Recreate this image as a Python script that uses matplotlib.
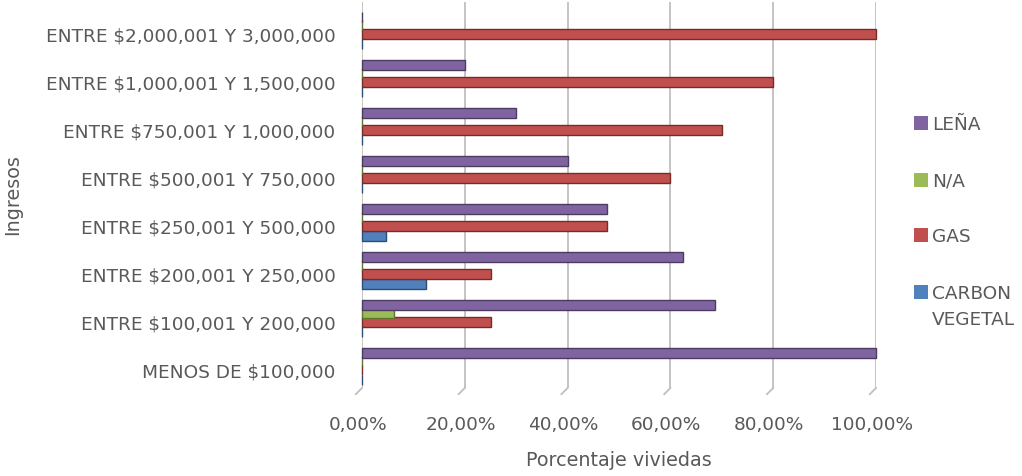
import numpy as np
import matplotlib
matplotlib.use('Agg')
import matplotlib.pyplot as plt
from matplotlib.patches import Rectangle
import matplotlib.transforms as mtransforms

plt.rcParams['font.family'] = ['DejaVu Sans']

# Income brackets, bottom to top
categorias = [
    'MENOS DE $100,000',
    'ENTRE $100,001 Y 200,000',
    'ENTRE $200,001 Y 250,000',
    'ENTRE $250,001 Y 500,000',
    'ENTRE $500,001 Y 750,000',
    'ENTRE $750,001 Y 1,000,000',
    'ENTRE $1,000,001 Y 1,500,000',
    'ENTRE $2,000,001 Y 3,000,000',
]

# Share of dwellings (%) per fuel type
carbon_vegetal = [0, 0, 12.5, 4.76, 0, 0, 0, 0]
gas = [0, 25, 25, 47.62, 60, 70, 80, 100]
n_a = [0, 6.25, 0, 0, 0, 0, 0, 0]
lena = [100, 68.75, 62.5, 47.62, 40, 30, 20, 0]

series = [
    ('CARBON\nVEGETAL', carbon_vegetal, '#4F81BD', '#2C4D75'),
    ('GAS', gas, '#C0504D', '#772C2A'),
    ('N/A', n_a, '#9BBB59', '#5F7530'),
    ('LEÑA', lena, '#8064A2', '#4D3B62'),
]
offsets = [-0.2, 0.0, 0.18, 0.36]
alto = 0.21
gris = '#595959'
fs = 13.3

W, H = 1022, 476
fig = plt.figure(figsize=(W / 100, H / 100), dpi=100)
ax = fig.add_axes([362 / W, 1 - 388 / H, 514 / W, 386 / H])

y = np.arange(len(categorias))
for k, ((nombre, valores, color, borde), off) in enumerate(zip(series, offsets)):
    ax.barh(y + off, valores, height=alto, color=color, edgecolor=borde,
            linewidth=1.0, zorder=3 + k, clip_on=False)

ax.set_xlim(0, 100)
ax.set_ylim(-0.375, 7.667)
xt = np.arange(0, 101, 20)
ax.set_xticks(xt)
ax.set_xticklabels([f'{v:.2f}%'.replace('.', ',') for v in xt])
ax.set_yticks(y)
ax.set_yticklabels(categorias)
ax.tick_params(axis='both', length=0, labelsize=fs, colors=gris)
ax.tick_params(axis='y', pad=19)
ax.tick_params(axis='x', pad=20)
desplaza = mtransforms.ScaledTranslation(-4 / 100, 0, fig.dpi_scale_trans)
for lbl in ax.get_xticklabels():
    lbl.set_transform(lbl.get_transform() + desplaza)

# vertical gridlines with the small slanted foot of the 3D floor
ax.grid(axis='x', color='#BFBFBF', linewidth=1.3, zorder=0)
trans = mtransforms.blended_transform_factory(ax.transData, ax.transAxes)
for v in xt:
    ax.plot([v, v - 1.2], [0.0, -0.016], color='#BFBFBF', linewidth=1.3,
            transform=trans, clip_on=False)
for s in ax.spines.values():
    s.set_visible(False)

ax.set_xlabel('Porcentaje viviedas', fontsize=fs + 0.5, color=gris)
ax.xaxis.set_label_coords(0.5, -(460 - 388) / 386)
ax.xaxis.label.set_va('center')
ax.set_ylabel('Ingresos', fontsize=fs + 0.5, color=gris)
ax.yaxis.set_label_coords((22 - 362) / 514, 0.5)

# legend: square + label, top entry is LEÑA
filas = [123, 180, 235, 292]
for (nombre, _, color, _), fila in zip(series[::-1], filas):
    fig.patches.append(Rectangle((914 / W, 1 - (fila + 7) / H), 14 / W, 14 / H,
                                 transform=fig.transFigure, facecolor=color,
                                 edgecolor='none'))
    for i, linea in enumerate(nombre.split('\n')):
        fig.text(932 / W, 1 - (fila + 26 * i) / H, linea, fontsize=fs,
                 color=gris, va='center_baseline', ha='left')

fig.savefig('out.png', dpi=100)
